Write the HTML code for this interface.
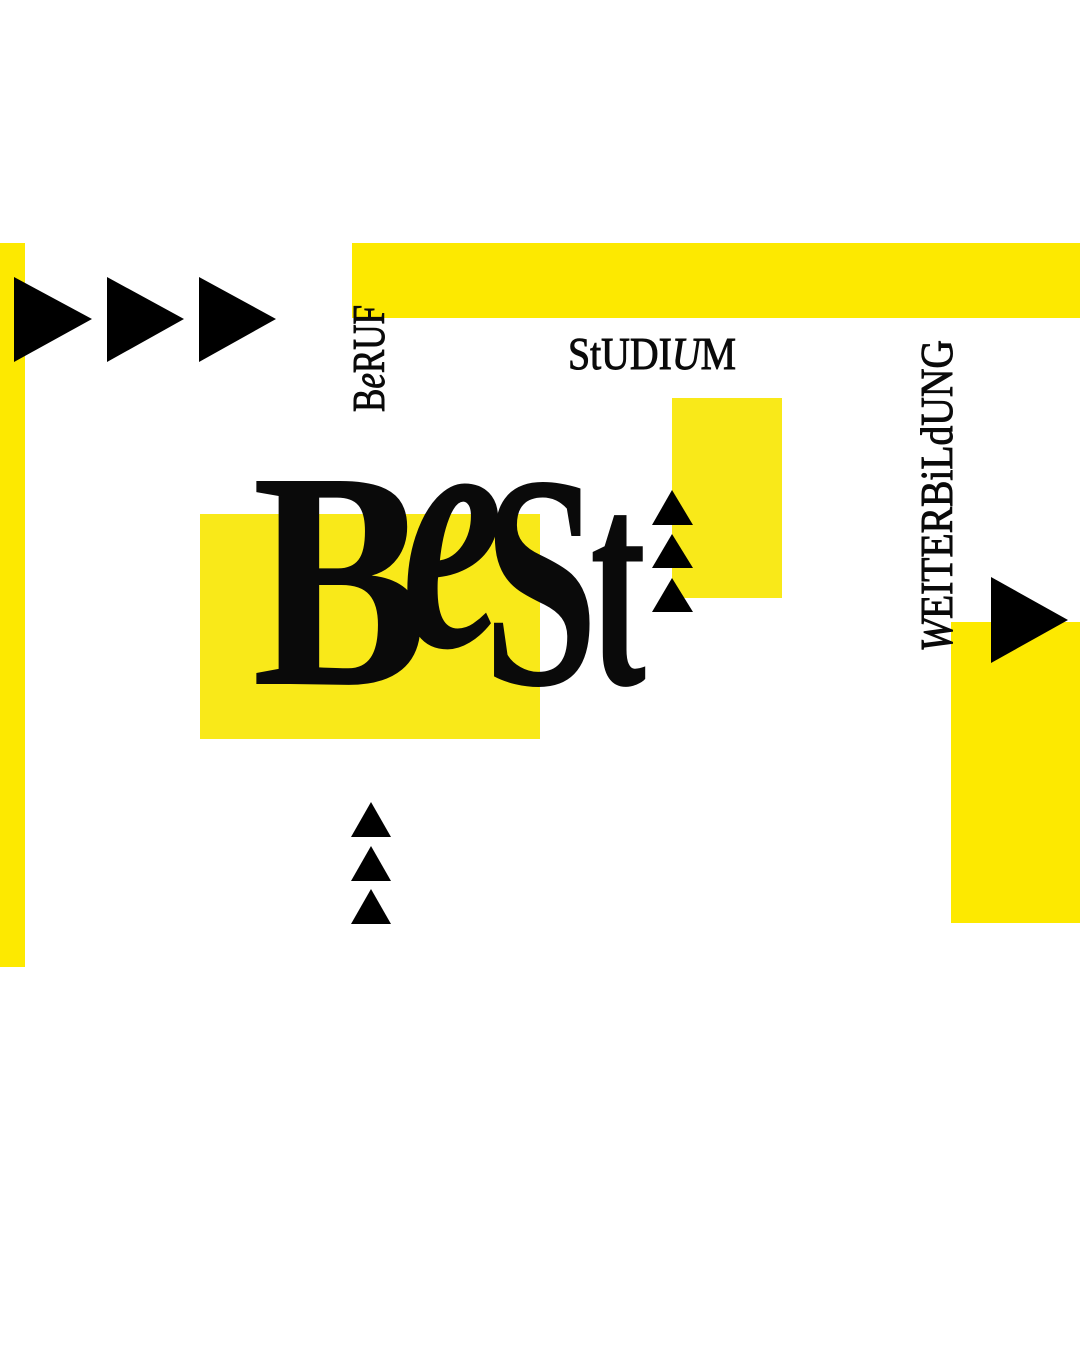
<!DOCTYPE html>
<html><head><meta charset="utf-8"><style>
html,body{margin:0;padding:0;background:#fff;width:1080px;height:1350px;overflow:hidden}
</style></head><body>
<svg width="1080" height="1350" xmlns="http://www.w3.org/2000/svg" style="display:block">
<rect width="1080" height="1350" fill="#fff"/>
<rect x="0" y="243" width="25" height="724" fill="#FDE900"/>
<rect x="352" y="243" width="728" height="75" fill="#FDE900"/>
<rect x="672" y="398" width="110" height="200" fill="#F9E919"/>
<rect x="200" y="514" width="340" height="225" fill="#F9E919"/>
<rect x="951" y="622" width="129" height="301" fill="#FDE900"/>
<g fill="#000">
<polygon points="14,277 92,319 14,362"/>
<polygon points="107,277 184,319 107,362"/>
<polygon points="199,277 276,319 199,362"/>
<polygon points="991,577 1068,620 991,663"/>
<polygon points="672,490 693,525 652,525"/>
<polygon points="672,534 693,568 652,568"/>
<polygon points="672,578 693,612 652,612"/>
<polygon points="371,802 391,837 351,837"/>
<polygon points="371,846 391,881 351,881"/>
<polygon points="371,889 391,924 351,924"/>
</g>
<g font-family="Liberation Serif, serif" fill="#0a0a0a">
<g stroke="#0a0a0a" stroke-width="1">
<text x="568" y="369" font-size="46" textLength="168" lengthAdjust="spacingAndGlyphs">StUDI<tspan font-style="italic">U</tspan>M</text>
<text transform="translate(384,412) rotate(-90)" font-size="46" textLength="107" lengthAdjust="spacingAndGlyphs">B<tspan font-style="italic">e</tspan>RUF</text>
<text transform="translate(952,652) rotate(-90)" font-size="46" textLength="312" lengthAdjust="spacingAndGlyphs"><tspan font-style="italic">W</tspan>EITERBiLdUNG</text>
</g>
<g font-weight="bold">
<text transform="translate(252,684) scale(0.85,1)" font-size="310">B</text>
<text transform="translate(402,646) scale(0.66,1)" font-size="345" font-style="italic">e</text>
<text transform="translate(483,684) scale(0.68,1)" font-size="305">S</text>
<text transform="translate(590,684) scale(0.56,1)" font-size="300">t</text>
</g>
</g>
</svg>
</body></html>
